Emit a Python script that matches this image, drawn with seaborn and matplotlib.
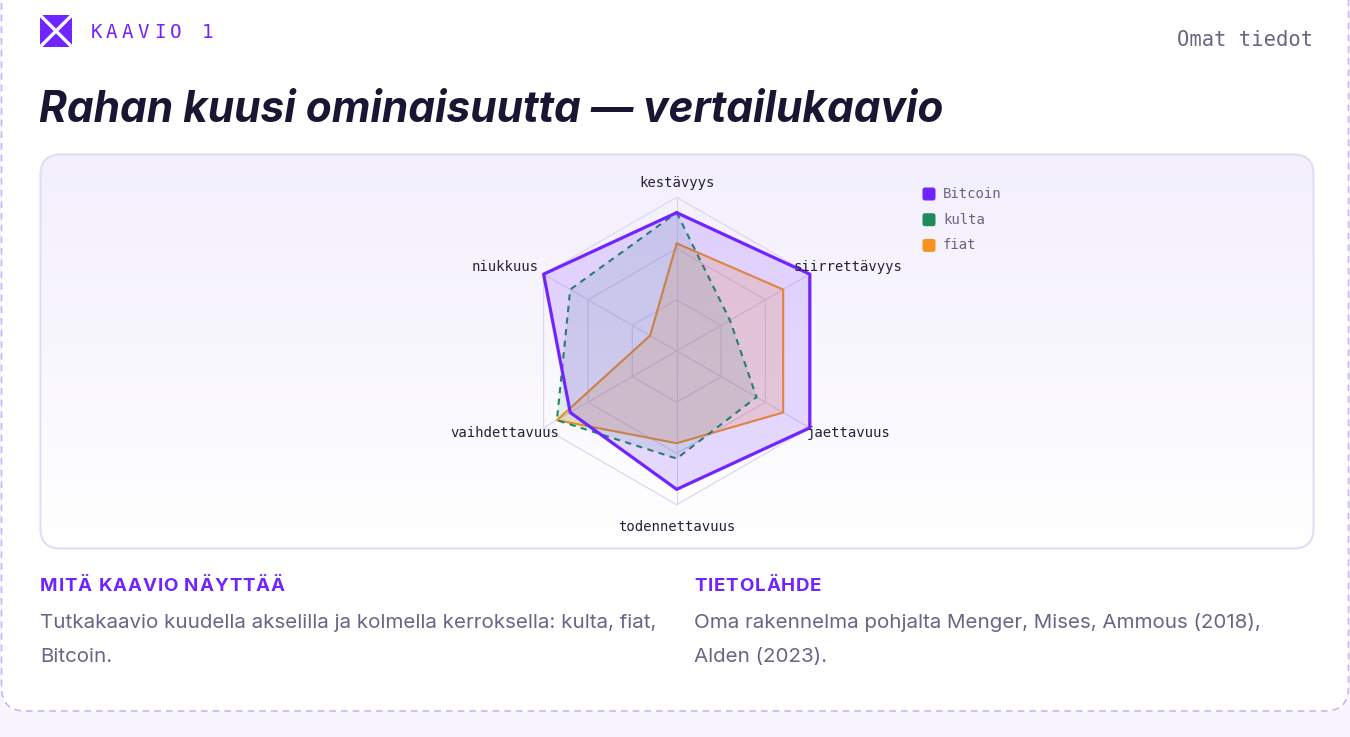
import numpy as np
import pandas as pd
import matplotlib
matplotlib.use("Agg")
import matplotlib.pyplot as plt
import seaborn as sns
from matplotlib.patches import FancyBboxPatch, Rectangle
from matplotlib.colors import LinearSegmentedColormap

# ---------------- data ----------------
axis_labels = ["kestävyys", "siirrettävyys", "jaettavuus",
               "todennettavuus", "vaihdettavuus", "niukkuus"]
series_names = ["Bitcoin", "kulta", "fiat"]
bitcoin = [9, 10, 10, 9, 8, 10]
kulta = [9, 4, 6, 7, 9, 8]
fiat = [7, 8, 8, 6, 9, 2]
scale_max = 10
ring_count = 3

title = "Rahan kuusi ominaisuutta — vertailukaavio"
kicker = "KAAVIO 1"
source_tag = "Omat tiedot"
left_head = "MITÄ KAAVIO NÄYTTÄÄ"
left_body = ["Tutkakaavio kuudella akselilla ja kolmella kerroksella: kulta, fiat,",
             "Bitcoin."]
right_head = "TIETOLÄHDE"
right_body = ["Oma rakennelma pohjalta Menger, Mises, Ammous (2018),",
              "Alden (2023)."]

# ---------------- style ----------------
sns.set_theme(style="white")
plt.rcParams["font.family"] = ["Inter", "DejaVu Sans"]

PURPLE = "#7024ff"
GREEN = "#1f8a5c"
ORANGE = "#f7941d"
GRAY = "#6b6585"
DARK = "#1a1533"
GRID = "#ddd6f2"
MONO = ["DejaVu Sans Mono"]

colors = {"Bitcoin": PURPLE, "kulta": GREEN, "fiat": ORANGE}
alphas = {"Bitcoin": 0.16, "kulta": 0.12, "fiat": 0.2}
lstyles = {"Bitcoin": "-", "kulta": (0, (3, 2.6)), "fiat": "-"}
lwidths = {"Bitcoin": 2.3, "kulta": 1.5, "fiat": 1.5}

W, H = 1350, 737
fig = plt.figure(figsize=(W / 100, H / 100), dpi=100)
fig.patch.set_facecolor("#f8f5fe")

bg = fig.add_axes([0, 0, 1, 1])
bg.set_xlim(0, W)
bg.set_ylim(H, 0)
bg.axis("off")
renderer = fig.canvas.get_renderer()


def spaced_text(x, y, s, spacing, **kw):
    """Draw string with extra letter spacing (pixels), using measured prefix widths."""
    for i, ch in enumerate(s):
        if i == 0:
            w = 0.0
        else:
            t = bg.text(0, 0, s[:i] + "|", **kw)
            tb = bg.text(0, 0, "|", **kw)
            w = t.get_window_extent(renderer).width - tb.get_window_extent(renderer).width
            t.remove()
            tb.remove()
        bg.text(x + w + i * spacing, y, ch, ha="left", **kw)


# card
card = FancyBboxPatch((1.5, -40), W - 3, 751, boxstyle="round,pad=0,rounding_size=24",
                      fc="white", ec="#c7b6f7", lw=1.2, ls=(0, (4, 3)), zorder=0)
bg.add_patch(card)

# chart panel with gradient
panel = FancyBboxPatch((40.5, 154.5), 1273, 394, boxstyle="round,pad=0,rounding_size=20",
                       fc="none", ec="#e2ddf4", lw=1.5, zorder=3)
bg.add_patch(panel)
cmap = LinearSegmentedColormap.from_list("g", ["#f3effd", "#ffffff"])
grad = np.linspace(0, 1, 256).reshape(-1, 1)
im = bg.imshow(grad, extent=[40.5, 1313.5, 548.5, 154.5], cmap=cmap, aspect="auto",
               zorder=1, interpolation="bilinear")
im.set_clip_path(panel)
bg.set_xlim(0, W)
bg.set_ylim(H, 0)

# logo
bg.add_patch(Rectangle((40, 15), 32, 32, fc=PURPLE, ec="none", zorder=2))
bg.plot([40, 72], [15, 47], color="white", lw=2.4, zorder=3, solid_capstyle="butt")
bg.plot([40, 72], [47, 15], color="white", lw=2.4, zorder=3, solid_capstyle="butt")

# kicker with letter spacing
for i, ch in enumerate(kicker):
    bg.text(96 + i * 15.9, 32, ch, family=MONO, fontsize=13.8, color=PURPLE,
            ha="center", va="center", zorder=3, fontweight="bold" if False else "normal")

bg.text(1313, 40, source_tag, family=MONO, fontsize=14.8, color=GRAY,
        ha="right", va="center", zorder=3)

bg.text(39, 122, title, fontsize=30.5, fontweight="bold", fontstyle="italic",
        color=DARK, ha="left", va="baseline", zorder=3)

# bottom notes
for x, head, body in [(40, left_head, left_body), (694, right_head, right_body)]:
    spaced_text(x, 591, head, 0.9, fontsize=13.5, fontweight="bold", color=PURPLE,
                va="baseline", zorder=3)
    for j, line in enumerate(body):
        bg.text(x, 628 + j * 34, line, fontsize=14.8, color=GRAY,
                ha="left", va="baseline", zorder=3)

# legend (manual)
for k, name in enumerate(series_names):
    yc = 194 + k * 25.7
    bg.add_patch(FancyBboxPatch((922.5, yc - 6.5), 13, 13,
                                boxstyle="round,pad=0,rounding_size=2.5",
                                fc=colors[name], ec="none", zorder=4))
    bg.text(943, yc, name, family=MONO, fontsize=10.1, color=GRAY,
            ha="left", va="center", zorder=4)

# ---------------- radar ----------------
cx, cy, R = 676.7, 351.0, 153.7
ax = fig.add_axes([(cx - R) / W, 1 - (cy + R) / H, 2 * R / W, 2 * R / H],
                  projection="polar")
ax.set_facecolor("none")
ax.set_theta_offset(np.pi / 2)
ax.set_theta_direction(-1)
ax.set_ylim(0, scale_max)
ax.grid(False)
ax.set_xticks([])
ax.set_yticks([])
ax.spines["polar"].set_visible(False)

n = len(axis_labels)
thetas = np.arange(n) * 2 * np.pi / n
closed_t = np.append(thetas, thetas[0])

for lvl in np.linspace(0, scale_max, ring_count + 1)[1:]:
    ax.plot(closed_t, [lvl] * (n + 1), color=GRID, lw=0.9, zorder=1, clip_on=False)
for t in thetas:
    ax.plot([t, t], [0, scale_max], color=GRID, lw=0.9, zorder=1, clip_on=False)

values = {"Bitcoin": bitcoin, "kulta": kulta, "fiat": fiat}
rows = []
for name in series_names:
    v = values[name]
    for i in range(n + 1):
        rows.append({"series": name, "theta": closed_t[i], "value": v[i % n], "order": i})
df = pd.DataFrame(rows)

z = 2
for name in reversed(series_names):
    sub = df[df.series == name]
    ax.fill(sub.theta, sub.value, color=colors[name], alpha=alphas[name], lw=0, zorder=z)
    sns.lineplot(data=sub, x="theta", y="value", sort=False, estimator=None, ax=ax,
                 color=colors[name], linewidth=lwidths[name], linestyle=lstyles[name],
                 legend=False, zorder=z + 1, clip_on=False)
    z += 2
ax.set_xlabel("")
ax.set_ylabel("")
ax.set_ylim(0, scale_max)

label_layout = [
    ((0, 14.6), "center"),
    ((-16.5, 7.5), "left"),
    ((-3, -5.5), "left"),
    ((0, -22), "center"),
    ((15.7, -5.5), "right"),
    ((-5.3, 7.5), "right"),
]
for t, lab, (off, ha) in zip(thetas, axis_labels, label_layout):
    ax.annotate(lab, xy=(t, scale_max), xytext=off, textcoords="offset pixels",
                ha=ha, va="center", family=MONO, fontsize=10.1, color="#27213d",
                annotation_clip=False, zorder=20)

fig.savefig("out.png", dpi=100, facecolor=fig.get_facecolor())
